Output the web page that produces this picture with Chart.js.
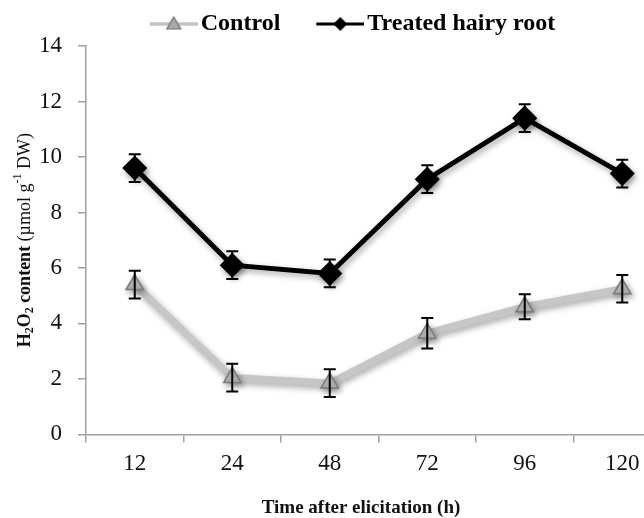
<!DOCTYPE html>
<html>
<head>
<meta charset="utf-8">
<script src="https://cdn.jsdelivr.net/npm/chart.js@4/dist/chart.umd.min.js"></script>
<style>
  html, body { margin: 0; padding: 0; background: #fff; }
  #wrap { width: 644px; height: 518px; overflow: hidden; position: relative; }
  #chart { position: absolute; left: 0; top: 0; }
</style>
</head>
<body>
<div id="wrap"><canvas id="chart" width="690" height="518"></canvas></div>
<script>
// Datos
const hours = ['12', '24', '48', '72', '96', '120'];
const control = [5.4, 2.05, 1.85, 3.65, 4.6, 5.25];
const controlErr = [0.5, 0.5, 0.5, 0.55, 0.45, 0.5];
const treated = [9.6, 6.1, 5.8, 9.2, 11.4, 9.4];
const treatedErr = [0.5, 0.5, 0.5, 0.5, 0.5, 0.5];
const yTicks = [0, 2, 4, 6, 8, 10, 12, 14];

const serif = 'Liberation Serif';
Chart.defaults.font.family = serif;

// icono de leyenda: línea con marcador al centro (estilo Excel)
function legendIcon(color, lineW, marker) {
    const c = document.createElement('canvas');
    c.width = 84;
    c.height = 20;
    const g = c.getContext('2d');
    g.strokeStyle = color;
    g.lineWidth = lineW;
    g.beginPath();
    g.moveTo(36, 10);
    g.lineTo(84, 10);
    g.stroke();
    g.beginPath();
    if (marker === 'triangle') {
        g.moveTo(60, 3);
        g.lineTo(67, 15);
        g.lineTo(53, 15);
        g.closePath();
        g.fillStyle = '#a8a8a8';
        g.fill();
        g.strokeStyle = '#707070';
        g.lineWidth = 1.2;
        g.stroke();
    } else {
        g.moveTo(60, 3);
        g.lineTo(67, 10);
        g.lineTo(60, 17);
        g.lineTo(53, 10);
        g.closePath();
        g.fillStyle = '#000';
        g.fill();
    }
    return c;
}
const legendIcons = [legendIcon('#c4c4c4', 3.5, 'triangle'), legendIcon('#000', 3, 'diamond')];

const errors = [controlErr, treatedErr];

const chartDecor = {
    id: 'chartDecor',
    beforeDatasetsDraw(chart) {
        const ctx = chart.ctx;
        ctx.save();
        ctx.shadowColor = 'rgba(0,0,0,0.35)';
        ctx.shadowBlur = 6;
        ctx.shadowOffsetX = 2;
        ctx.shadowOffsetY = 3;
    },
    afterDatasetsDraw(chart) {
        const ctx = chart.ctx;
        ctx.restore();
        // barras de error
        const y = chart.scales.y;
        ctx.save();
        ctx.strokeStyle = '#000';
        ctx.lineWidth = 2;
        chart.data.datasets.forEach(function (ds, i) {
            const meta = chart.getDatasetMeta(i);
            meta.data.forEach(function (pt, j) {
                const v = ds.data[j];
                const e = errors[i][j];
                const top = y.getPixelForValue(v + e);
                const bot = y.getPixelForValue(v - e);
                ctx.beginPath();
                ctx.moveTo(pt.x, top);
                ctx.lineTo(pt.x, bot);
                ctx.moveTo(pt.x - 6, top);
                ctx.lineTo(pt.x + 6, top);
                ctx.moveTo(pt.x - 6, bot);
                ctx.lineTo(pt.x + 6, bot);
                ctx.stroke();
            });
        });
        ctx.restore();
    },
    afterDraw(chart) {
        const ctx = chart.ctx;
        const area = chart.chartArea;
        ctx.save();
        ctx.fillStyle = '#111';
        // titulo eje x
        ctx.font = 'bold 19px ' + serif;
        ctx.textAlign = 'center';
        ctx.textBaseline = 'middle';
        ctx.fillText('Time after elicitation (h)', 361, 508);

        // titulo eje y con subíndices
        const parts = [
            { t: 'H', f: 'bold 18px', dy: 0 },
            { t: '2', f: 'bold 12px', dy: 5 },
            { t: 'O', f: 'bold 18px', dy: 0 },
            { t: '2', f: 'bold 12px', dy: 5 },
            { t: ' content ', f: 'bold 18px', dy: 0 },
            { t: '(µmol g', f: '18px', dy: 0 },
            { t: '-1', f: '12px', dy: -7 },
            { t: ' DW)', f: '18px', dy: 0 }
        ];
        let total = 0;
        parts.forEach(function (p) {
            ctx.font = p.f + ' ' + serif;
            p.w = ctx.measureText(p.t).width;
            total += p.w;
        });
        ctx.translate(25, (area.top + area.bottom) / 2);
        ctx.rotate(-Math.PI / 2);
        ctx.textAlign = 'left';
        let x = -total / 2;
        parts.forEach(function (p) {
            ctx.font = p.f + ' ' + serif;
            ctx.fillText(p.t, x, p.dy);
            x += p.w;
        });
        ctx.restore();
    }
};

const ctx = document.getElementById('chart').getContext('2d');
new Chart(ctx, {
    type: 'line',
    data: {
        labels: hours,
        datasets: [{
            label: 'Control',
            data: control,
            borderColor: '#c6c6c6',
            borderWidth: 7,
            pointStyle: 'triangle',
            pointRadius: 10,
            pointBackgroundColor: '#b8b8b8',
            pointBorderColor: '#7a7a7a',
            pointBorderWidth: 1.5,
            tension: 0
        }, {
            label: 'Treated hairy root',
            data: treated,
            borderColor: '#000',
            borderWidth: 5,
            pointStyle: 'rectRot',
            pointRadius: 9,
            pointBackgroundColor: '#000',
            pointBorderColor: '#000',
            tension: 0
        }]
    },
    options: {
        responsive: false,
        animation: false,
        layout: { padding: { left: 7, right: 19, top: 3, bottom: 32 } },
        plugins: {
            tooltip: { enabled: false },
            legend: {
                position: 'top',
                labels: {
                    usePointStyle: true,
                    pointStyleWidth: 66,
                    padding: 9,
                    color: '#111',
                    font: { family: serif, size: 24, weight: 'bold' },
                    generateLabels: function (chart) {
                        return chart.data.datasets.map(function (ds, i) {
                            return {
                                text: ds.label,
                                pointStyle: legendIcons[i],
                                fillStyle: ds.borderColor,
                                strokeStyle: ds.borderColor,
                                lineWidth: 0,
                                hidden: false,
                                datasetIndex: i
                            };
                        });
                    }
                }
            }
        },
        scales: {
            x: {
                offset: true,
                grid: { display: true, offset: true, drawOnChartArea: false, tickLength: 8, color: '#a0a0a0', lineWidth: 1.5 },
                border: { display: true, color: '#a0a0a0', width: 1.5 },
                ticks: { color: '#111', padding: 8, font: { family: serif, size: 23 } }
            },
            y: {
                min: 0,
                max: 14,
                afterBuildTicks: function (scale) {
                    scale.ticks = yTicks.map(function (v) { return { value: v }; });
                },
                afterFit: function (scale) { scale.width = 79; },
                grid: { display: true, drawOnChartArea: false, tickLength: 8, color: '#a0a0a0', lineWidth: 1.5 },
                border: { display: true, color: '#a0a0a0', width: 1.5 },
                ticks: { color: '#111', padding: 16, font: { family: serif, size: 23 } }
            }
        }
    },
    plugins: [chartDecor]
});
</script>
</body>
</html>
